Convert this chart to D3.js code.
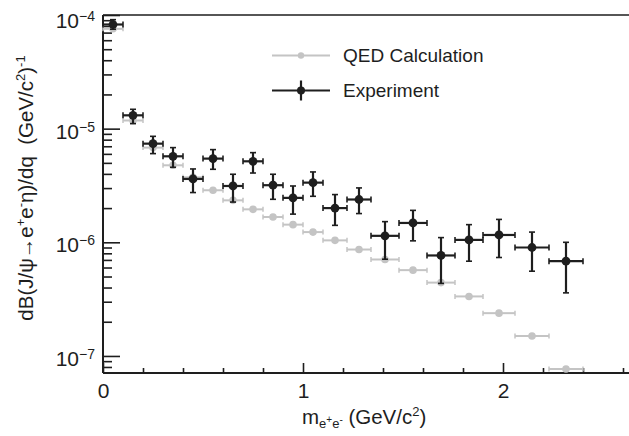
<!DOCTYPE html>
<html>
<head>
<meta charset="utf-8">
<script src="https://cdn.jsdelivr.net/npm/d3@7"></script>
<style>
  body { margin: 0; background: #fff; }
  svg { display: block; font-family: "Liberation Sans", Arial, Helvetica, sans-serif; }
</style>
</head>
<body>
<svg width="629" height="436"></svg>
<script>
// bin edges in m(e+e-) (GeV/c^2)
const binLo = [0.0, 0.1, 0.2, 0.3, 0.4, 0.5, 0.6, 0.7, 0.8, 0.9, 1.0, 1.1, 1.22, 1.34, 1.48, 1.62, 1.76, 1.90, 2.06, 2.23];
const binHi = [0.1, 0.2, 0.3, 0.4, 0.5, 0.6, 0.7, 0.8, 0.9, 1.0, 1.1, 1.22, 1.34, 1.48, 1.62, 1.76, 1.90, 2.06, 2.23, 2.40];

// experiment: central value and error band
const expVal = [8.25e-5, 1.31e-5, 7.38e-6, 5.71e-6, 3.61e-6, 5.45e-6, 3.13e-6, 5.16e-6, 3.18e-6, 2.46e-6,
                3.35e-6, 2.00e-6, 2.38e-6, 1.14e-6, 1.48e-6, 7.66e-7, 1.05e-6, 1.16e-6, 9.0e-7, 6.82e-7];
const expHi  = [9.1e-5, 1.48e-5, 8.56e-6, 6.81e-6, 4.42e-6, 6.54e-6, 3.97e-6, 6.15e-6, 3.97e-6, 3.13e-6,
                4.16e-6, 2.63e-6, 3.01e-6, 1.52e-6, 1.91e-6, 1.10e-6, 1.43e-6, 1.59e-6, 1.23e-6, 1.0e-6];
const expLo  = [7.5e-5, 1.107e-5, 6.03e-6, 4.57e-6, 2.74e-6, 4.39e-6, 2.26e-6, 4.07e-6, 2.39e-6, 1.77e-6,
                2.54e-6, 1.41e-6, 1.79e-6, 7.1e-7, 1.03e-6, 4.35e-7, 6.82e-7, 7.35e-7, 5.57e-7, 3.59e-7];

// QED calculation
const qedVal = [7.56e-5, 1.18e-5, 6.81e-6, 4.76e-6, 3.73e-6, 2.87e-6, 2.34e-6, 1.95e-6, 1.67e-6, 1.43e-6,
                1.23e-6, 1.04e-6, 8.64e-7, 7.06e-7, 5.69e-7, 4.42e-7, 3.34e-7, 2.38e-7, 1.50e-7, 7.67e-8];

const xMajor = [0, 1, 2];
const xMinor = [0.2, 0.4, 0.6, 0.8, 1.2, 1.4, 1.6, 1.8, 2.2, 2.4, 2.6];
const yMajor = [1e-7, 1e-6, 1e-5, 1e-4];
const yExp = ["−7", "−6", "−5", "−4"];

const svg = d3.select("svg");
const width = +svg.attr("width");
const height = +svg.attr("height");

const plotLeft = 103, plotTop = 15, plotBottom = 373;

const x = d3.scaleLinear().domain([0, 2.63]).range([plotLeft, width]);
const y = d3.scaleLog().domain([7.08e-8, 1e-4]).range([plotBottom, plotTop]);

const ink = "#1e1e1e";
const grey = "#c4c4c4";

const yMinor = [];
[1e-8, 1e-7, 1e-6, 1e-5].forEach(d => {
  for (let k = 2; k <= 9; k++) {
    const v = d * k;
    if (v >= y.domain()[0] && v < 1e-4) yMinor.push(v);
  }
});

// y axis
const yAxisMinor = svg.append("g")
  .attr("transform", `translate(${plotLeft},0)`)
  .call(d3.axisLeft(y).tickValues(yMinor).tickSize(-9).tickFormat(""));
const yAxisMajor = svg.append("g")
  .attr("transform", `translate(${plotLeft},0)`)
  .call(d3.axisLeft(y).tickValues(yMajor).tickSize(-17).tickPadding(25).tickFormat(""));

yAxisMajor.selectAll(".tick text").each(function (d, i) {
  const t = d3.select(this);
  t.attr("text-anchor", "end").attr("font-size", 21).attr("fill", ink)
    .attr("dy", d === 1e-4 ? "0.6em" : "0.45em")
    .attr("x", -8);
  t.append("tspan").text("10");
  t.append("tspan").attr("dy", "-0.5em").attr("font-size", 14).text(yExp[i]);
});

// x axis
const xAxisMinor = svg.append("g")
  .attr("transform", `translate(0,${plotBottom})`)
  .call(d3.axisBottom(x).tickValues(xMinor).tickSize(-5).tickFormat(""));
const xAxisMajor = svg.append("g")
  .attr("transform", `translate(0,${plotBottom})`)
  .call(d3.axisBottom(x).tickValues(xMajor).tickSize(-10).tickPadding(10).tickFormat(d3.format("d")));

xAxisMajor.selectAll(".tick text").attr("font-size", 21).attr("fill", ink).attr("dy", "0.71em");

[yAxisMinor, yAxisMajor, xAxisMinor, xAxisMajor].forEach(g => {
  g.select(".domain").remove();
  g.selectAll(".tick line").attr("stroke", ink).attr("stroke-width", 1.6);
});

// frame
svg.append("line").attr("x1", plotLeft).attr("x2", plotLeft).attr("y1", plotTop).attr("y2", plotBottom)
  .attr("stroke", ink).attr("stroke-width", 2);
svg.append("line").attr("x1", plotLeft).attr("x2", width).attr("y1", plotBottom).attr("y2", plotBottom)
  .attr("stroke", ink).attr("stroke-width", 2);
svg.append("line").attr("x1", plotLeft).attr("x2", width).attr("y1", plotTop).attr("y2", plotTop)
  .attr("stroke", ink).attr("stroke-width", 1.5);

const idx = d3.range(binLo.length);
const mid = i => x((binLo[i] + binHi[i]) / 2);

// QED points
const qed = svg.append("g");
idx.forEach(i => {
  const yy = y(qedVal[i]);
  qed.append("line").attr("x1", x(binLo[i])).attr("x2", x(binHi[i])).attr("y1", yy).attr("y2", yy)
    .attr("stroke", grey).attr("stroke-width", 2);
  [binLo[i], binHi[i]].forEach(b => {
    qed.append("line").attr("x1", x(b)).attr("x2", x(b)).attr("y1", yy - 2.5).attr("y2", yy + 2.5)
      .attr("stroke", grey).attr("stroke-width", 1.5);
  });
  qed.append("circle").attr("cx", mid(i)).attr("cy", yy).attr("r", 3.8).attr("fill", grey);
});

// Experiment points
const ex = svg.append("g");
idx.forEach(i => {
  const yy = y(expVal[i]);
  const cx = mid(i);
  ex.append("line").attr("x1", x(binLo[i])).attr("x2", x(binHi[i])).attr("y1", yy).attr("y2", yy)
    .attr("stroke", ink).attr("stroke-width", 2.2);
  [binLo[i], binHi[i]].forEach(b => {
    ex.append("line").attr("x1", x(b)).attr("x2", x(b)).attr("y1", yy - 3).attr("y2", yy + 3)
      .attr("stroke", ink).attr("stroke-width", 1.6);
  });
  ex.append("line").attr("x1", cx).attr("x2", cx).attr("y1", y(expHi[i])).attr("y2", y(expLo[i]))
    .attr("stroke", ink).attr("stroke-width", 2.2);
  [expHi[i], expLo[i]].forEach(v => {
    ex.append("line").attr("x1", cx - 3).attr("x2", cx + 3).attr("y1", y(v)).attr("y2", y(v))
      .attr("stroke", ink).attr("stroke-width", 1.6);
  });
  ex.append("circle").attr("cx", cx).attr("cy", yy).attr("r", 4.4).attr("fill", ink);
});

// Legend
const legend = svg.append("g");
legend.append("line").attr("x1", 272).attr("x2", 330).attr("y1", 55.5).attr("y2", 55.5)
  .attr("stroke", grey).attr("stroke-width", 2);
legend.append("circle").attr("cx", 301).attr("cy", 55.5).attr("r", 3.2).attr("fill", grey);
legend.append("text").attr("x", 343).attr("y", 62).attr("font-size", 19).attr("fill", ink)
  .text("QED Calculation");

legend.append("line").attr("x1", 272).attr("x2", 330).attr("y1", 90.5).attr("y2", 90.5)
  .attr("stroke", ink).attr("stroke-width", 2.2);
legend.append("line").attr("x1", 301).attr("x2", 301).attr("y1", 80.5).attr("y2", 100.5)
  .attr("stroke", ink).attr("stroke-width", 2.2);
legend.append("circle").attr("cx", 301).attr("cy", 90.5).attr("r", 4).attr("fill", ink);
legend.append("text").attr("x", 343).attr("y", 97).attr("font-size", 19).attr("fill", ink)
  .text("Experiment");

// x title
const xt = svg.append("text").attr("x", 302).attr("y", 424).attr("font-size", 20.5).attr("fill", ink);
xt.append("tspan").text("m");
xt.append("tspan").attr("font-size", 13).attr("dy", 4).text("e");
xt.append("tspan").attr("font-size", 10).attr("dy", -5).text("+");
xt.append("tspan").attr("font-size", 13).attr("dy", 5).text("e");
xt.append("tspan").attr("font-size", 10).attr("dy", -5).text("-");
xt.append("tspan").attr("dy", 1).text(" (GeV/c");
xt.append("tspan").attr("font-size", 13).attr("dy", -8).text("2");
xt.append("tspan").attr("dy", 8).text(")");

// y title
const yt = svg.append("text")
  .attr("transform", "translate(32.5,188) rotate(-90)")
  .attr("text-anchor", "middle").attr("font-size", 20.5).attr("fill", ink);
yt.append("tspan").text("dB(J/ψ→e");
yt.append("tspan").attr("font-size", 13).attr("dy", -8).text("+");
yt.append("tspan").attr("dy", 8).text("e");
yt.append("tspan").attr("font-size", 13).attr("dy", -8).text("-");
yt.append("tspan").attr("dy", 8).text("η)/dq\u00a0\u00a0(GeV/c");
yt.append("tspan").attr("font-size", 13).attr("dy", -8).text("2");
yt.append("tspan").attr("dy", 8).text(")");
yt.append("tspan").attr("font-size", 13).attr("dy", -8).text("-1");
</script>
</body>
</html>
